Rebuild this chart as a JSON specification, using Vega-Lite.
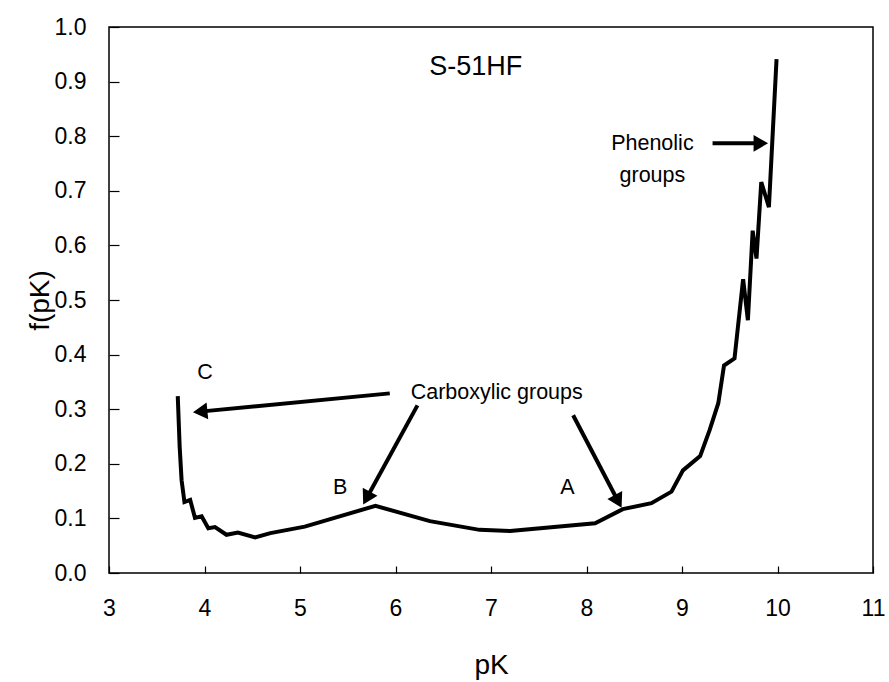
{
  "$schema": "https://vega.github.io/schema/vega-lite/v6.json",
  "width": 764,
  "height": 546,
  "autosize": {"type": "none"},
  "padding": {"left": 109, "top": 27, "right": 16, "bottom": 109},
  "background": "white",
  "config": {
    "font": "Liberation Sans",
    "view": {"stroke": "black", "strokeWidth": 1.5},
    "axis": {"grid": false, "domain": false, "tickColor": "black", "labelColor": "black", "titleColor": "black", "labelFont": "Liberation Sans", "titleFont": "Liberation Sans"}
  },
  "datasets": {
    "curve": [
      {"pK": 3.72, "f": 0.324},
      {"pK": 3.74, "f": 0.231},
      {"pK": 3.76, "f": 0.170},
      {"pK": 3.79, "f": 0.130},
      {"pK": 3.85, "f": 0.134},
      {"pK": 3.90, "f": 0.101},
      {"pK": 3.97, "f": 0.104},
      {"pK": 4.04, "f": 0.082},
      {"pK": 4.11, "f": 0.084},
      {"pK": 4.23, "f": 0.070},
      {"pK": 4.35, "f": 0.074},
      {"pK": 4.53, "f": 0.065},
      {"pK": 4.69, "f": 0.073},
      {"pK": 5.05, "f": 0.085},
      {"pK": 5.79, "f": 0.123},
      {"pK": 6.36, "f": 0.095},
      {"pK": 6.88, "f": 0.079},
      {"pK": 7.20, "f": 0.077},
      {"pK": 8.09, "f": 0.091},
      {"pK": 8.38, "f": 0.117},
      {"pK": 8.68, "f": 0.128},
      {"pK": 8.89, "f": 0.149},
      {"pK": 9.01, "f": 0.188},
      {"pK": 9.19, "f": 0.214},
      {"pK": 9.29, "f": 0.262},
      {"pK": 9.38, "f": 0.311},
      {"pK": 9.44, "f": 0.380},
      {"pK": 9.55, "f": 0.393},
      {"pK": 9.64, "f": 0.538},
      {"pK": 9.69, "f": 0.463},
      {"pK": 9.74, "f": 0.627},
      {"pK": 9.78, "f": 0.576},
      {"pK": 9.83, "f": 0.716},
      {"pK": 9.91, "f": 0.670},
      {"pK": 9.99, "f": 0.941}
    ],
    "arrows": [
      {"arrow": "C", "x": 5.94, "y": 0.329, "x2": 3.98, "y2": 0.296},
      {"arrow": "B", "x": 6.23, "y": 0.307, "x2": 5.71, "y2": 0.141},
      {"arrow": "A", "x": 7.86, "y": 0.289, "x2": 8.32, "y2": 0.135},
      {"arrow": "P", "x": 9.32, "y": 0.787, "x2": 9.80, "y2": 0.787}
    ],
    "labels": [
      {"label": "S-51HF", "x": 6.84, "y": 0.926, "kind": "title"},
      {"label": "Carboxylic groups", "x": 7.06, "y": 0.329, "kind": "note"},
      {"label": "Phenolic\ngroups", "x": 8.69, "y": 0.785, "kind": "note"},
      {"label": "C", "x": 4.005, "y": 0.366, "kind": "note"},
      {"label": "B", "x": 5.42, "y": 0.155, "kind": "note"},
      {"label": "A", "x": 7.80, "y": 0.155, "kind": "note"}
    ]
  },
  "layer": [
    {
      "data": {"name": "curve"},
      "mark": {"type": "line", "color": "black", "strokeWidth": 4, "strokeJoin": "miter", "strokeMiterLimit": 3},
      "encoding": {
        "x": {
          "field": "pK", "type": "quantitative",
          "scale": {"domain": [3, 11], "nice": false, "zero": false},
          "axis": {
            "title": "pK", "values": [3, 4, 5, 6, 7, 8, 9, 10, 11], "format": "d",
            "tickSize": -7, "tickWidth": 1.2, "labelFontSize": 23, "labelPadding": 31,
            "titleFontSize": 28, "titleFontWeight": "normal", "titleBaseline": "alphabetic",
            "titleX": 382, "titleY": 100, "labelFlush": false
          }
        },
        "y": {
          "field": "f", "type": "quantitative",
          "scale": {"domain": [0, 1], "nice": false},
          "axis": {
            "title": "f(pK)", "values": [0, 0.1, 0.2, 0.3, 0.4, 0.5, 0.6, 0.7, 0.8, 0.9, 1.0], "format": ".1f",
            "tickSize": -10, "tickWidth": 1.2, "labelFontSize": 23, "labelPadding": 33,
            "titleFontSize": 28, "titleFontWeight": "normal", "titleBaseline": "alphabetic",
            "titleX": -61, "titleY": 273, "titleAngle": -90, "labelFlush": false
          }
        }
      }
    },
    {
      "data": {"name": "arrows"},
      "mark": {"type": "rule", "color": "black", "strokeWidth": 4},
      "encoding": {
        "x": {"field": "x", "type": "quantitative"},
        "y": {"field": "y", "type": "quantitative"},
        "x2": {"field": "x2"},
        "y2": {"field": "y2"}
      }
    },
    {
      "data": {"name": "arrows"},
      "transform": [{"filter": "datum.arrow === 'C'"}],
      "mark": {"type": "point", "shape": "triangle", "filled": true, "color": "black", "opacity": 1, "size": 280, "angle": 264.5},
      "encoding": {"x": {"field": "x2", "type": "quantitative"}, "y": {"field": "y2", "type": "quantitative"}}
    },
    {
      "data": {"name": "arrows"},
      "transform": [{"filter": "datum.arrow === 'B'"}],
      "mark": {"type": "point", "shape": "triangle", "filled": true, "color": "black", "opacity": 1, "size": 280, "angle": 208.4},
      "encoding": {"x": {"field": "x2", "type": "quantitative"}, "y": {"field": "y2", "type": "quantitative"}}
    },
    {
      "data": {"name": "arrows"},
      "transform": [{"filter": "datum.arrow === 'A'"}],
      "mark": {"type": "point", "shape": "triangle", "filled": true, "color": "black", "opacity": 1, "size": 280, "angle": 152.2},
      "encoding": {"x": {"field": "x2", "type": "quantitative"}, "y": {"field": "y2", "type": "quantitative"}}
    },
    {
      "data": {"name": "arrows"},
      "transform": [{"filter": "datum.arrow === 'P'"}],
      "mark": {"type": "point", "shape": "triangle", "filled": true, "color": "black", "opacity": 1, "size": 280, "angle": 90},
      "encoding": {"x": {"field": "x2", "type": "quantitative"}, "y": {"field": "y2", "type": "quantitative"}}
    },
    {
      "data": {"name": "labels"},
      "transform": [{"filter": "datum.kind === 'title'"}],
      "mark": {"type": "text", "fontSize": 27, "color": "black", "align": "center", "baseline": "middle"},
      "encoding": {"x": {"field": "x", "type": "quantitative"}, "y": {"field": "y", "type": "quantitative"}, "text": {"field": "label"}}
    },
    {
      "data": {"name": "labels"},
      "transform": [{"filter": "datum.kind === 'note'"}],
      "mark": {"type": "text", "fontSize": 21.5, "color": "black", "align": "center", "baseline": "middle", "lineBreak": "\n", "lineHeight": 32},
      "encoding": {"x": {"field": "x", "type": "quantitative"}, "y": {"field": "y", "type": "quantitative"}, "text": {"field": "label"}}
    }
  ]
}
